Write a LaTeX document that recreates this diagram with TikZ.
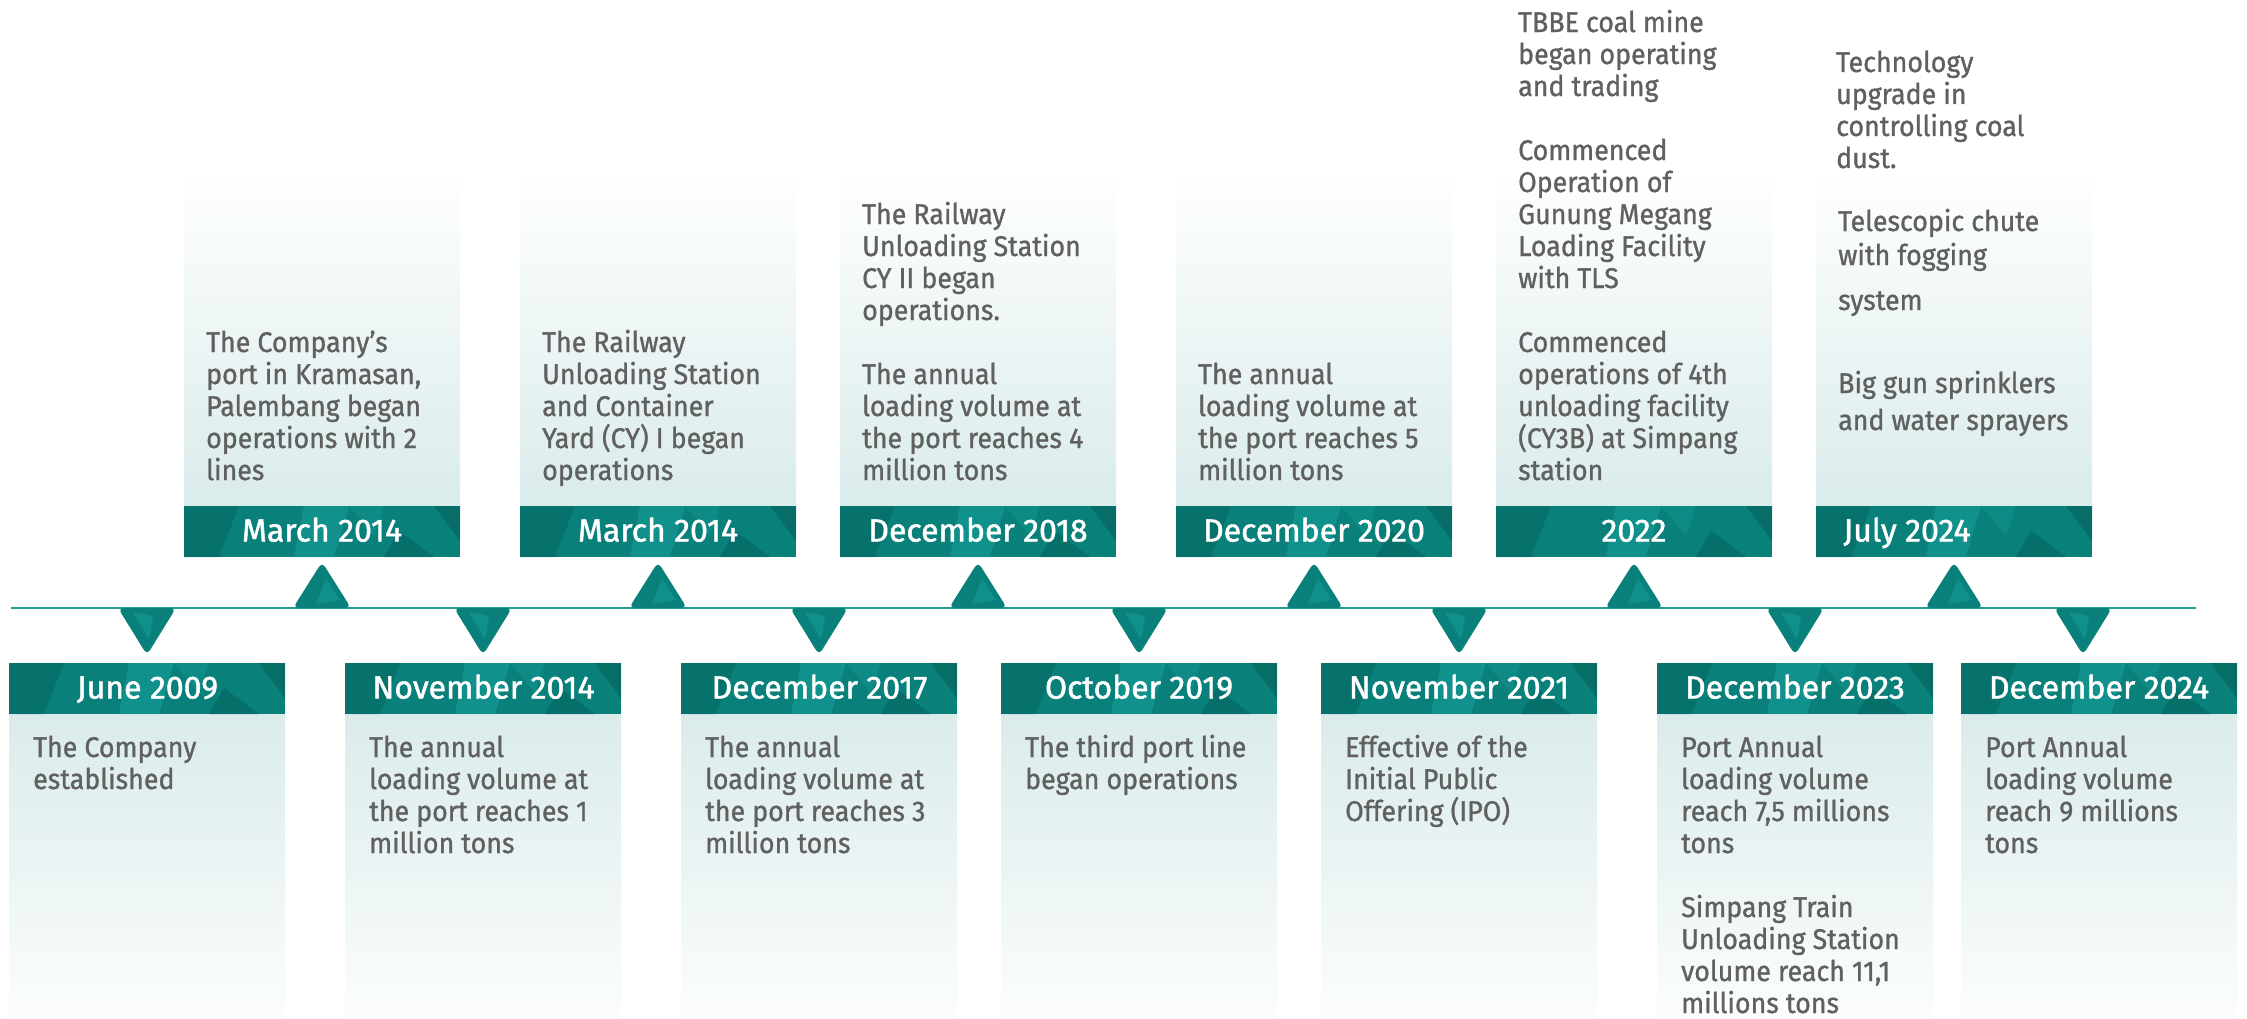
\documentclass[tikz,border=0pt]{standalone}
\usepackage{fontspec}
\setmainfont{Fira Sans}
\newfontfamily\datefont{Fira Sans}[FakeBold=1.5]
\newfontfamily\bodyfont{Fira Sans}[FakeBold=1.0,FakeStretch=0.94]
\usetikzlibrary{calc}

\definecolor{tealmid}{HTML}{0A807B}
\definecolor{tealdark}{HTML}{05655F}
\definecolor{teallight}{HTML}{16A09A}
\definecolor{lineteal}{HTML}{1E9D99}
\definecolor{boxtint}{HTML}{DAEBEB}
\definecolor{textgray}{HTML}{606060}

% faceted date bar, #1 = left, #2 = top
\newcommand{\datebar}[2]{%
  \begin{scope}[shift={(#1,#2)}]
    \fill[tealmid] (0,0) rectangle (276,51);
    \fill[tealdark,opacity=.5] (0,0) -- (55,0) -- (35,51) -- (0,51) -- cycle;
    \fill[teallight,opacity=.55] (120,0) -- (165,0) -- (150,51) -- (110,51) -- cycle;
    \fill[teallight,opacity=.35] (165,0) -- (200,0) -- (190,30) -- cycle;
    \fill[tealdark,opacity=.6] (200,51) -- (215,25) -- (250,51) -- cycle;
    \fill[tealdark,opacity=.7] (250,0) -- (276,0) -- (276,35) -- cycle;
  \end{scope}}

\begin{document}
\begin{tikzpicture}[x=1pt,y=-1pt,
  date/.style={font=\datefont\fontsize{32}{34}\selectfont,text=white,inner sep=0pt,anchor=base},
  event/.style={font=\bodyfont\fontsize{28.5}{32}\selectfont,text=textgray,align=left,inner sep=0pt,anchor=base west},
  upbox/.style={top color=white,bottom color=boxtint},
  downbox/.style={top color=boxtint,bottom color=white!92!boxtint},
  marker/.style={fill=tealmid,rounded corners=6pt}]
  \useasboundingbox (0,0) rectangle (2247,1019);
  \fill[white] (0,0) rectangle (2247,1019);

  % panels above the line
  \foreach \l in {184,520,840,1176,1496,1816}{
    \fill[upbox] (\l,170) rectangle (\l+276,506);
    \datebar{\l}{506}
  }
  % panels below the line
  \foreach \l in {9,345,681,1001,1321,1657,1961}{
    \fill[downbox] (\l,714) rectangle (\l+276,1019);
    \datebar{\l}{663}
  }

  % time axis
  \coordinate (t0) at (11,608);
  \coordinate (t1) at (2196,608);
  \draw[lineteal,line width=2.2pt] (t0) -- (t1);

  \foreach \x in {322,658,978,1314,1634,1954}{
    \fill[marker] (\x-29,608) -- (\x,562) -- (\x+29,608) -- cycle;
    \fill[teallight,opacity=.5] (\x-6,604) -- (\x+4,578) -- (\x+18,600) -- cycle;
  }
  \foreach \x in {147,483,819,1139,1459,1795,2083}{
    \fill[marker] (\x-29,608) -- (\x+29,608) -- (\x,655) -- cycle;
    \fill[teallight,opacity=.5] (\x-14,612) -- (\x+6,616) -- (\x+2,640) -- cycle;
  }

  % dates
  \node[date] (mar14a) at (322,541.5) {March 2014};
  \node[date] (mar14b) at (658,541.5) {March 2014};
  \node[date] (dec18) at (978,541.5) {December 2018};
  \node[date] (dec20) at (1314,541.5) {December 2020};
  \node[date] (y22) at (1634,541.5) {2022};
  \node[date] (jul24) at (1907,541.5) {July 2024};

  \node[date] (jun09) at (147.5,698.5) {June 2009};
  \node[date] (nov14) at (483.5,698.5) {November 2014};
  \node[date] (dec17) at (819.5,698.5) {December 2017};
  \node[date] (oct19) at (1139,698.5) {October 2019};
  \node[date] (nov21) at (1459,698.5) {November 2021};
  \node[date] (dec23) at (1795,698.5) {December 2023};
  \node[date] (dec24) at (2099,698.5) {December 2024};

  % events (placed by the baseline of their last line)
  \node[event] (ev-mar14a) at (206,480) {The Company’s\\port in Kramasan,\\Palembang began\\operations with 2\\lines};
  \node[event] (ev-mar14b) at (542,480) {The Railway\\Unloading Station\\and Container\\Yard (CY) I began\\operations};
  \node[event] (ev-dec18) at (862,480) {The Railway\\Unloading Station\\CY II began\\operations.\\[32pt]The annual\\loading volume at\\the port reaches 4\\million tons};
  \node[event] (ev-dec20) at (1198,480) {The annual\\loading volume at\\the port reaches 5\\million tons};
  \node[event] (ev-y22) at (1518,480) {TBBE coal mine\\began operating\\and trading\\[32pt]Commenced\\Operation of\\Gunung Megang\\Loading Facility\\with TLS\\[32pt]Commenced\\operations of 4th\\unloading facility\\(CY3B) at Simpang\\station};
  \node[event] (ev-jul24a) at (1836,168) {Technology\\upgrade in\\controlling coal\\dust.};
  \node[event] (ev-jul24b) at (1838,310) {Telescopic chute\\[2pt]with fogging\\[13pt]system};
  \node[event] (ev-jul24c) at (1838,430) {Big gun sprinklers\\[5pt]and water sprayers};

  \node[event] (ev-jun09) at (33,789) {The Company\\established};
  \node[event] (ev-nov14) at (369,853) {The annual\\loading volume at\\the port reaches 1\\million tons};
  \node[event] (ev-dec17) at (705,853) {The annual\\loading volume at\\the port reaches 3\\million tons};
  \node[event] (ev-oct19) at (1025,789) {The third port line\\began operations};
  \node[event] (ev-nov21) at (1345,821) {Effective of the\\Initial Public\\Offering (IPO)};
  \node[event] (ev-dec23) at (1681,1013) {Port Annual\\loading volume\\reach 7,5 millions\\tons\\[32pt]Simpang Train\\Unloading Station\\volume reach 11,1\\millions tons};
  \node[event] (ev-dec24) at (1985,853) {Port Annual\\loading volume\\reach 9 millions\\tons};
\end{tikzpicture}
\end{document}
